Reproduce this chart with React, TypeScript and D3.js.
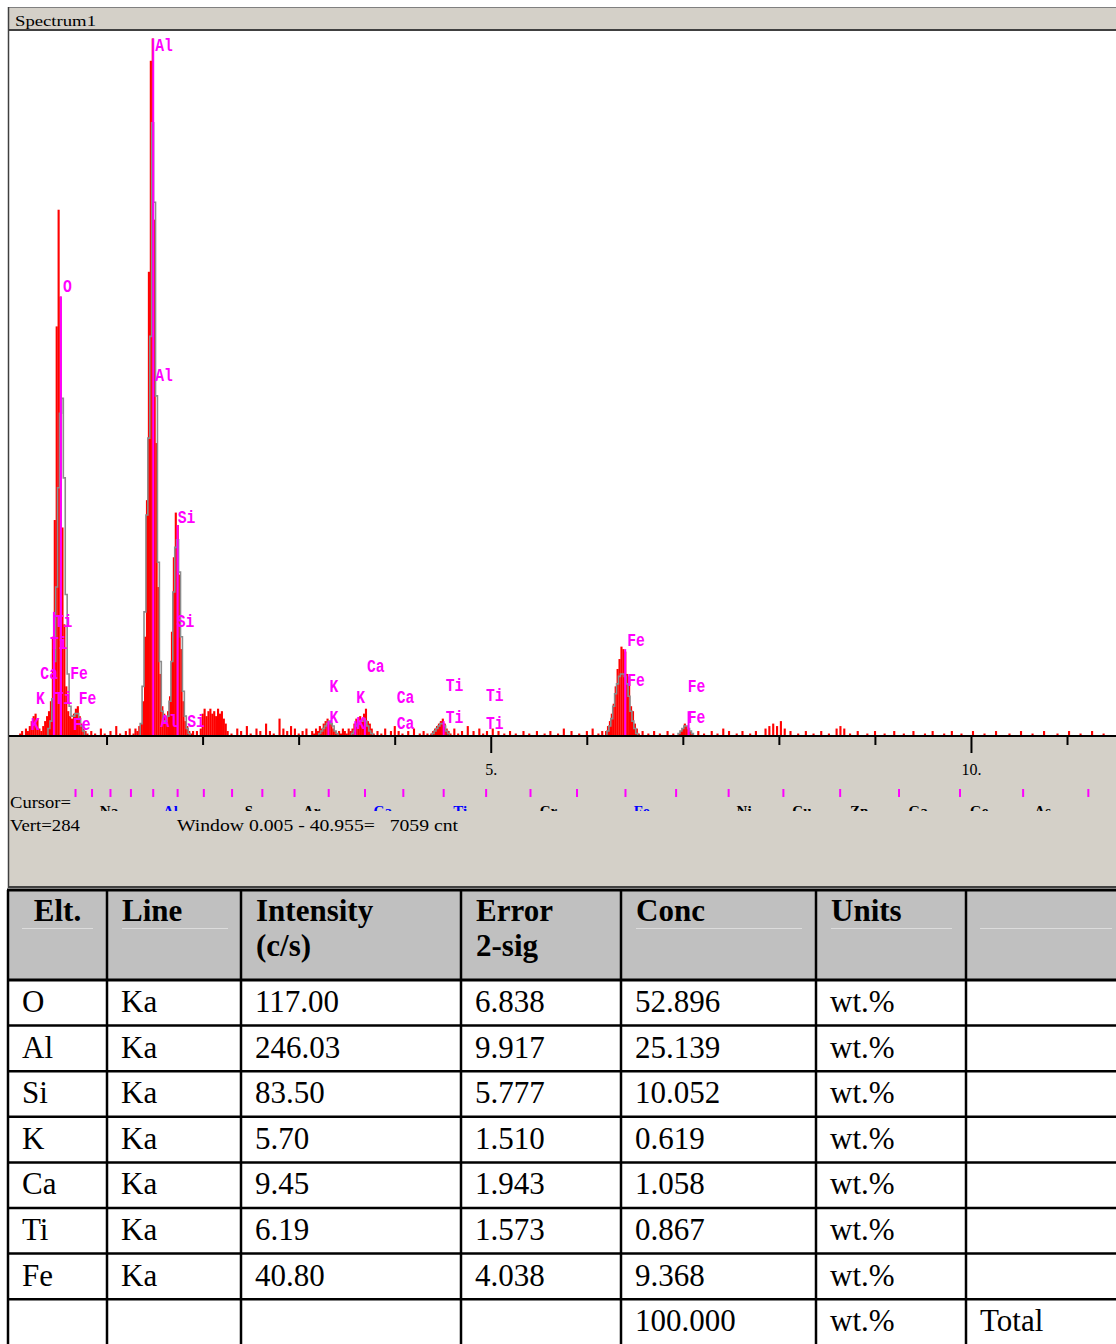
import React, { useEffect, useRef } from 'react';
import * as d3 from 'd3';

const WIDTH = 1116;
const HEIGHT = 1344;

// channel width of the spectrum, keV
const CHANNEL = 0.02;

// measured counts, runs of consecutive channels: [first channel keV, counts]
const measuredRuns: [number, number[]][] = [
  [0.1, [1, 2, 0, 3, 2, 4, 6, 8, 9, 7, 3, 2, 4, 6, 8, 10, 14, 40, 87, 165, 212, 177, 84, 45, 20, 10, 8, 7, 9, 11, 12, 8, 5, 3, 2, 1]],
  [1.3, [3, 2, 4, 5, 14, 40, 95, 187, 272, 281, 208, 118, 60, 25, 12, 9, 8, 10, 16, 42, 72, 90, 85, 65, 35, 14, 6, 4, 2, 1, 2]],
  [2.0, [9, 11, 8, 10, 11, 9, 10, 8, 11, 9, 10, 7, 5, 2]],
  [3.14, [2, 1, 3, 2, 4, 3, 5, 6, 7, 6, 5, 3, 2, 1, 2, 1, 3, 2, 1, 3, 2, 3, 5, 7, 6, 8, 7, 9, 11, 6, 5, 3, 1]],
  [4.38, [1, 2, 3, 4, 5, 6, 7, 5, 3, 2, 1]],
  [6.2, [2, 4, 6, 9, 13, 20, 27, 31, 36, 35, 34, 25, 24, 12, 10, 5, 3, 1]],
  [6.96, [1, 2, 3, 5, 4, 3, 2, 1]],
];

// fitted spectrum (grey outline), same layout
const fittedRuns: [number, number[]][] = [
  [0.4, [3, 6, 15, 30, 60, 100, 130, 136, 104, 57, 25, 12, 8, 8, 9, 9, 7, 4, 2]],
  [1.36, [5, 20, 50, 89, 120, 161, 247, 215, 137, 70, 30, 10, 6, 6, 8, 14, 30, 58, 76, 79, 66, 40, 18, 8, 3, 1]],
  [3.22, [1, 2, 3, 4, 5, 6, 5, 4, 2, 1]],
  [3.56, [1, 2, 4, 5, 6, 6, 7, 6, 4, 2, 1]],
  [4.4, [1, 2, 3, 4, 5, 5, 4, 2, 1]],
  [6.22, [2, 4, 7, 12, 17, 21, 24, 25, 25, 24, 21, 16, 10, 6, 3, 1]],
  [6.96, [1, 2, 3, 4, 4, 3, 2, 1]],
];

// scattered background channels [keV, counts]
const backgroundCounts: [number, number][] = [
  [0.84, 2], [0.88, 1], [0.94, 3], [0.98, 1], [1.04, 2], [1.1, 4], [1.14, 1], [1.2, 2], [1.24, 3], [1.28, 1],
  [1.94, 2], [1.98, 3], [2.3, 1], [2.36, 3], [2.4, 2], [2.46, 4], [2.5, 1], [2.56, 3], [2.6, 2], [2.66, 5],
  [2.7, 2], [2.74, 1], [2.8, 7], [2.84, 3], [2.88, 2], [2.92, 4], [2.96, 3], [3.0, 1], [3.04, 2], [3.08, 3],
  [3.82, 2], [3.86, 1], [3.9, 3], [3.96, 2], [4.0, 4], [4.04, 2], [4.08, 1], [4.14, 2], [4.2, 3], [4.26, 1],
  [4.3, 2], [4.34, 1], [4.62, 3], [4.66, 1], [4.7, 2], [4.76, 4], [4.82, 2], [4.88, 3], [4.92, 1], [4.96, 2],
  [5.02, 3], [5.08, 2], [5.14, 1], [5.2, 2], [5.26, 1], [5.34, 2], [5.4, 1], [5.48, 2], [5.56, 1], [5.62, 2],
  [5.7, 1], [5.76, 3], [5.84, 2], [5.92, 1], [6.0, 2], [6.06, 3], [6.12, 1], [6.16, 2], [6.58, 2], [6.64, 1],
  [6.7, 2], [6.76, 1], [6.84, 2], [6.9, 1], [7.16, 2], [7.22, 1], [7.3, 2], [7.36, 1], [7.42, 3], [7.48, 2],
  [7.56, 1], [7.62, 2], [7.7, 1], [7.76, 2], [7.86, 3], [7.9, 4], [7.94, 5], [7.98, 4], [8.02, 6], [8.06, 3],
  [8.12, 2], [8.2, 1], [8.28, 2], [8.36, 1], [8.44, 2], [8.52, 1], [8.6, 3], [8.64, 4], [8.68, 3], [8.74, 1],
  [8.82, 2], [8.92, 1], [9.0, 2], [9.1, 1], [9.2, 2], [9.3, 1], [9.4, 2], [9.52, 1], [9.6, 2], [9.72, 1],
  [9.8, 2], [9.9, 1], [10.02, 2], [10.14, 1], [10.26, 2], [10.4, 1], [10.52, 2], [10.64, 1], [10.76, 2],
  [10.9, 1], [11.02, 2], [11.14, 1], [11.26, 2], [11.38, 1],
];

// peak labels: [text, keV, label level in counts]
const peakLabels: [string, number, number][] = [
  ['Al', 1.486, 276], ['Al', 1.486, 143], ['O', 0.525, 179], ['Si', 1.72, 86], ['Si', 1.71, 44],
  ['Ti', 0.44, 44], ['Ti', 0.39, 35], ['Ca', 0.29, 23], ['Fe', 0.6, 23],
  ['K', 0.245, 13], ['Ti', 0.44, 13], ['Fe', 0.69, 13],
  ['K', 0.19, 2.4], ['Fe', 0.63, 2.4], ['Al', 1.54, 3.6], ['Si', 1.82, 3.6],
  ['K', 3.3, 17.7], ['K', 3.3, 5.2], ['K', 3.58, 13.3], ['K', 3.58, 2.8],
  ['Ca', 3.69, 25.8], ['Ca', 4.0, 13.3], ['Ca', 4.0, 2.8],
  ['Ti', 4.51, 18.1], ['Ti', 4.51, 5.2], ['Ti', 4.93, 14.1], ['Ti', 4.93, 2.8],
  ['Fe', 6.4, 36.3], ['Fe', 6.4, 20.1], ['Fe', 7.03, 17.7], ['Fe', 7.03, 5.2],
];

// magenta line markers: [keV, top in counts]
const peakMarkers: [number, number][] = [
  [1.486, 281], [0.525, 177], [1.74, 85], [6.4, 35], [0.452, 50],
  [3.31, 6], [3.59, 6], [3.69, 7], [4.51, 6], [7.06, 10],
];

const minorTicks = [1, 2, 3, 4, 6, 7, 8, 9, 11];
const majorTicks = [5, 10];

// K-line positions of the element strip under the axis
const elementTicks = [
  0.677, 0.849, 1.041, 1.254, 1.486, 1.74, 2.013, 2.307, 2.622, 2.957, 3.313, 3.691, 4.09,
  4.51, 4.952, 5.414, 5.898, 6.403, 6.93, 7.477, 8.047, 8.638, 9.251, 9.886, 10.543, 11.222,
];
const elementNames: [string, number, string][] = [
  ['Na', 0.93, '#000'], ['Al', 1.588, '#0000ff'], ['S', 2.44, '#000'], ['Ar', 3.045, '#000'],
  ['Ca', 3.78, '#0000ff'], ['Ti', 4.61, '#0000ff'], ['Cr', 5.51, '#000'], ['Fe', 6.49, '#0000ff'],
  ['Ni', 7.56, '#000'], ['Cu', 8.14, '#000'], ['Zn', 8.74, '#000'], ['Ga', 9.35, '#000'],
  ['Ge', 9.99, '#000'], ['As', 10.66, '#000'],
];

// results table
const headers = [['Elt.'], ['Line'], ['Intensity', '(c/s)'], ['Error', '2-sig'], ['Conc'], ['Units'], ['']];
const elements = ['O', 'Al', 'Si', 'K', 'Ca', 'Ti', 'Fe', ''];
const lines = ['Ka', 'Ka', 'Ka', 'Ka', 'Ka', 'Ka', 'Ka', ''];
const intensity = ['117.00', '246.03', '83.50', '5.70', '9.45', '6.19', '40.80', ''];
const error2sig = ['6.838', '9.917', '5.777', '1.510', '1.943', '1.573', '4.038', ''];
const conc = ['52.896', '25.139', '10.052', '0.619', '1.058', '0.867', '9.368', '100.000'];
const units = ['wt.%', 'wt.%', 'wt.%', 'wt.%', 'wt.%', 'wt.%', 'wt.%', 'wt.%'];
const notes = ['', '', '', '', '', '', '', 'Total'];

const colEdges = [8, 107, 241, 461, 621, 816, 966, 1130];

export default function App() {
  const ref = useRef<SVGSVGElement>(null);

  useEffect(() => {
    const svg = d3.select(ref.current);
    svg.selectAll('*').remove();

    const x = d3.scaleLinear().domain([0, 11.51]).range([10.5, WIDTH]);
    const y = d3.scaleLinear().domain([0, 284]).range([736, 31]);
    const chW = x(CHANNEL) - x(0);
    const serif = 'Liberation Serif';

    // window frame
    svg.append('rect').attr('x', 8).attr('y', 7).attr('width', WIDTH - 8).attr('height', 23).attr('fill', '#d4d0c8');
    svg.append('line').attr('x1', 8).attr('x2', WIDTH).attr('y1', 7.5).attr('y2', 7.5).attr('stroke', '#808080');
    svg.append('rect').attr('x', 9).attr('y', 31).attr('width', WIDTH - 9).attr('height', 705).attr('fill', '#fff');
    svg.append('rect').attr('x', 9).attr('y', 737).attr('width', WIDTH - 9).attr('height', 149).attr('fill', '#d4d0c8');
    svg.append('line').attr('x1', 8).attr('x2', WIDTH).attr('y1', 30).attr('y2', 30).attr('stroke', '#404040').attr('stroke-width', 2);
    svg.append('line').attr('x1', 8).attr('x2', WIDTH).attr('y1', 887).attr('y2', 887).attr('stroke', '#404040').attr('stroke-width', 2);
    svg.append('line').attr('x1', 8.5).attr('x2', 8.5).attr('y1', 7).attr('y2', 888).attr('stroke', '#404040').attr('stroke-width', 1.5);

    svg.append('text').attr('x', 15).attr('y', 26).attr('font-family', serif).attr('font-size', 15)
      .attr('textLength', 81).attr('lengthAdjust', 'spacingAndGlyphs').text('Spectrum1');

    // measured channels
    const bars: [number, number][] = [];
    measuredRuns.forEach(([e0, counts]) => counts.forEach((c, i) => bars.push([e0 + i * CHANNEL, c])));
    backgroundCounts.forEach(d => bars.push(d));

    svg.append('g').selectAll('rect').data(bars).enter().append('rect')
      .attr('x', d => x(d[0]) - chW / 2)
      .attr('y', d => y(d[1]))
      .attr('width', chW + 0.2)
      .attr('height', d => y(0) - y(d[1]))
      .attr('fill', '#ff0000');

    // fitted outline
    const step = d3.line<[number, number]>().x(d => x(d[0])).y(d => y(d[1])).curve(d3.curveStepAfter);
    svg.append('g').selectAll('path').data(fittedRuns).enter().append('path')
      .attr('d', ([e0, counts]) => {
        const pts: [number, number][] = [[e0 - CHANNEL / 2, 0]];
        counts.forEach((c, i) => pts.push([e0 + i * CHANNEL - CHANNEL / 2, c]));
        const last = e0 + (counts.length - 1) * CHANNEL + CHANNEL / 2;
        pts.push([last, counts[counts.length - 1]]);
        pts.push([last, 0]);
        return step(pts);
      })
      .attr('fill', 'none')
      .attr('stroke', '#8c8c8c')
      .attr('stroke-width', 1.6);

    // line markers and labels
    svg.append('g').selectAll('line').data(peakMarkers).enter().append('line')
      .attr('x1', d => x(d[0])).attr('x2', d => x(d[0]))
      .attr('y1', y(0)).attr('y2', d => y(d[1]))
      .attr('stroke', '#ff00ff').attr('stroke-width', 2);

    svg.append('g').selectAll('text').data(peakLabels).enter().append('text')
      .attr('x', d => x(d[1]) + 2)
      .attr('y', d => y(d[2]))
      .attr('font-family', 'Liberation Mono')
      .attr('font-weight', 'bold')
      .attr('font-size', 19)
      .attr('fill', '#ff00ff')
      .attr('textLength', d => d[0].length * 8.8)
      .attr('lengthAdjust', 'spacingAndGlyphs')
      .text(d => d[0]);

    // energy axis
    svg.append('line').attr('x1', 9).attr('x2', WIDTH).attr('y1', 736).attr('y2', 736)
      .attr('stroke', '#000').attr('stroke-width', 2);

    const minor = svg.append('g').attr('transform', 'translate(0,736)')
      .call(d3.axisBottom(x).tickValues(minorTicks).tickSize(9).tickFormat(() => ''));
    const major = svg.append('g').attr('transform', 'translate(0,736)')
      .call(d3.axisBottom(x).tickValues(majorTicks).tickSize(17).tickPadding(11).tickFormat(d => `${d}.`));
    [minor, major].forEach(g => {
      g.select('.domain').remove();
      g.selectAll('line').attr('stroke', '#000').attr('stroke-width', 2);
      g.selectAll('text').attr('font-family', serif).attr('font-size', 16).attr('fill', '#000');
    });

    // element strip
    svg.append('g').selectAll('line').data(elementTicks).enter().append('line')
      .attr('x1', d => x(d)).attr('x2', d => x(d))
      .attr('y1', 789).attr('y2', 797)
      .attr('stroke', '#ff00ff').attr('stroke-width', 2);

    svg.append('clipPath').attr('id', 'stripClip').append('rect')
      .attr('x', 0).attr('y', 798).attr('width', WIDTH).attr('height', 13);
    svg.append('g').attr('clip-path', 'url(#stripClip)')
      .selectAll('text').data(elementNames).enter().append('text')
      .attr('x', d => x(d[1]))
      .attr('y', 816)
      .attr('font-family', serif)
      .attr('font-weight', 'bold')
      .attr('font-size', 15)
      .attr('fill', d => d[2])
      .text(d => d[0]);

    const status: [string, number, number, number][] = [
      ['Cursor=', 10, 808, 61],
      ['Vert=284', 10, 831, 70],
      ['Window 0.005 - 40.955=   7059 cnt', 177, 831, 281],
    ];
    svg.append('g').selectAll('text').data(status).enter().append('text')
      .attr('x', d => d[1]).attr('y', d => d[2])
      .attr('font-family', serif).attr('font-size', 16)
      .attr('textLength', d => d[3]).attr('lengthAdjust', 'spacingAndGlyphs')
      .attr('xml:space', 'preserve')
      .text(d => d[0]);

    // results table
    const tableTop = 890;
    const headBottom = 980;
    const rowH = 45.6;
    const table = svg.append('g');

    table.append('rect').attr('x', 8).attr('y', tableTop).attr('width', WIDTH - 8)
      .attr('height', headBottom - tableTop).attr('fill', '#c0c0c0');

    // faint underlines inside header cells
    const faint: [number, number][] = [[22, 93], [122, 228], [636, 802], [831, 952], [980, 1112]];
    table.selectAll('line.faint').data(faint).enter().append('line')
      .attr('x1', d => d[0]).attr('x2', d => d[1]).attr('y1', 928.5).attr('y2', 928.5)
      .attr('stroke', '#dcdcdc').attr('stroke-width', 1);

    headers.forEach((h, i) => {
      h.forEach((t, j) => {
        table.append('text')
          .attr('x', i === 0 ? (colEdges[0] + colEdges[1]) / 2 : colEdges[i] + 15)
          .attr('y', 921 + j * 35)
          .attr('text-anchor', i === 0 ? 'middle' : 'start')
          .attr('font-family', serif).attr('font-weight', 'bold').attr('font-size', 31)
          .text(t);
      });
    });

    const columns = [elements, lines, intensity, error2sig, conc, units, notes];
    elements.forEach((_, r) => {
      const top = headBottom + r * rowH;
      columns.forEach((col, c) => {
        if (!col[r]) return;
        table.append('text')
          .attr('x', colEdges[c] + 14)
          .attr('y', top + 32)
          .attr('font-family', serif).attr('font-size', 31)
          .text(col[r]);
      });
    });

    const hLines = [tableTop, ...elements.map((_, r) => headBottom + r * rowH)];
    table.selectAll('line.h').data(hLines).enter().append('line')
      .attr('x1', 7).attr('x2', WIDTH).attr('y1', d => d).attr('y2', d => d)
      .attr('stroke', '#000').attr('stroke-width', (d, i) => (i < 2 ? 3 : 2.5));
    table.selectAll('line.v').data(colEdges).enter().append('line')
      .attr('x1', d => d).attr('x2', d => d).attr('y1', tableTop).attr('y2', HEIGHT)
      .attr('stroke', '#000').attr('stroke-width', 2.5);
  }, []);

  return (
    <svg
      ref={ref}
      width={WIDTH}
      height={HEIGHT}
      viewBox={`0 0 ${WIDTH} ${HEIGHT}`}
      style={{ position: 'absolute', left: 0, top: 0, background: '#fff' }}
    />
  );
}
